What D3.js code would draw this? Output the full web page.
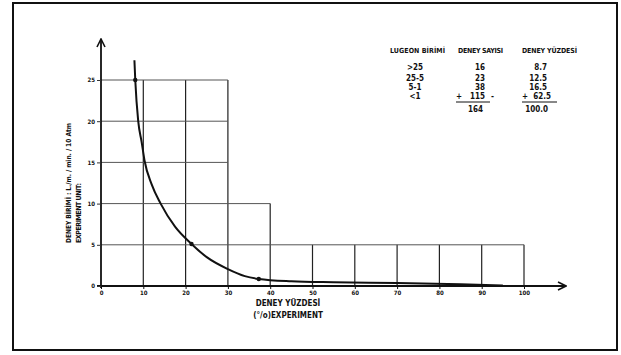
<!DOCTYPE html>
<html>
<head>
<meta charset="utf-8">
<script src="https://cdn.jsdelivr.net/npm/d3@7"></script>
<style>
  body { margin: 0; background: #fff; }
  text { font-family: "Liberation Sans Narrow", "DejaVu Sans Condensed", sans-serif; font-weight: bold; fill: #111; }
</style>
</head>
<body>
<div id="chart"></div>
<script>
// curve: x = deney yüzdesi (%), y = deney birimi
const curveX = [7.9, 8.1, 8.8, 9.6, 10.3, 12, 14.1, 17.5, 21.4, 25, 30, 34, 37.3, 45, 55, 70, 85, 95];
const curveY = [27.4, 25, 20, 17.5, 15.2, 12.3, 10, 7.2, 5.1, 3.5, 2.05, 1.2, 0.85, 0.57, 0.45, 0.35, 0.2, 0.05];
const markedX = [8.1, 21.4, 37.3];
const markedY = [25, 5.1, 0.85];

// stepped grid: vertical lines and how high they go, horizontal lines and how far they go
const gridX = [10, 20, 30, 40, 50, 60, 70, 80, 90, 100];
const gridXTop = [25, 25, 25, 10, 5, 5, 5, 5, 5, 5];
const gridY = [5, 10, 15, 20, 25];
const gridYRight = [100, 40, 30, 30, 30];

const xTicks = [0, 10, 20, 30, 40, 50, 60, 70, 80, 90, 100];
const yTicks = [0, 5, 10, 15, 20, 25];

// table
const tableHeaders = ["LUGEON BİRİMİ", "DENEY SAYISI", "DENEY YÜZDESİ"];
const lugeonClasses = [">25", "25-5", "5-1", "<1"];
const testCounts = ["16", "23", "38", "115"];
const testPercents = ["8.7", "12.5", "16.5", "62.5"];
const totals = ["164", "100.0"];

const width = 621, height = 355;
const svg = d3.select("#chart").append("svg")
  .attr("width", width)
  .attr("height", height);

// frame
svg.append("rect")
  .attr("x", 13).attr("y", 3)
  .attr("width", 604).attr("height", 347)
  .attr("fill", "none").attr("stroke", "#111").attr("stroke-width", 2);

const x = d3.scaleLinear().domain([0, 100]).range([101, 524]);
const y = d3.scaleLinear().domain([0, 25]).range([286, 80]);

// grid
svg.append("g").selectAll("line")
  .data(gridX)
  .join("line")
  .attr("x1", d => x(d)).attr("x2", d => x(d))
  .attr("y1", y(0)).attr("y2", (d, i) => y(gridXTop[i]))
  .attr("stroke", "#222").attr("stroke-width", 1.2);

svg.append("g").selectAll("line")
  .data(gridY)
  .join("line")
  .attr("x1", x(0)).attr("x2", (d, i) => x(gridYRight[i]))
  .attr("y1", d => y(d)).attr("y2", d => y(d))
  .attr("stroke", "#555").attr("stroke-width", 1);

// axes with arrows
svg.append("defs").append("marker")
  .attr("id", "arrow")
  .attr("viewBox", "0 0 10 10")
  .attr("refX", 9).attr("refY", 5)
  .attr("markerWidth", 10).attr("markerHeight", 10)
  .attr("markerUnits", "userSpaceOnUse")
  .attr("orient", "auto")
  .append("path")
  .attr("d", "M1,1 L9,5 L1,9")
  .attr("fill", "none").attr("stroke", "#111").attr("stroke-width", 1.6);

svg.append("line")
  .attr("x1", x(0)).attr("x2", x(0))
  .attr("y1", y(0) + 2).attr("y2", 39)
  .attr("stroke", "#111").attr("stroke-width", 1.8)
  .attr("marker-end", "url(#arrow)");

svg.append("line")
  .attr("x1", x(0) - 4).attr("x2", 566)
  .attr("y1", y(0)).attr("y2", y(0))
  .attr("stroke", "#111").attr("stroke-width", 1.8)
  .attr("marker-end", "url(#arrow)");

const xAxis = svg.append("g")
  .attr("transform", "translate(0," + y(0) + ")")
  .call(d3.axisBottom(x).tickValues(xTicks).tickSize(3).tickPadding(2).tickFormat(d3.format("d")));
xAxis.select(".domain").remove();
xAxis.selectAll("text").attr("font-size", 6).attr("font-family", null).attr("fill", "#111");
xAxis.selectAll("line").attr("stroke", "#111");

const yAxis = svg.append("g")
  .attr("transform", "translate(" + x(0) + ",0)")
  .call(d3.axisLeft(y).tickValues(yTicks).tickSize(4).tickPadding(2).tickFormat(d3.format("d")));
yAxis.select(".domain").remove();
yAxis.selectAll("text").attr("font-size", 6).attr("font-family", null).attr("fill", "#111");
yAxis.selectAll("line").attr("stroke", "#333");

// curve
const pts = curveX.map((d, i) => [d, curveY[i]]);
svg.append("path")
  .datum(pts)
  .attr("fill", "none")
  .attr("stroke", "#111")
  .attr("stroke-width", 2)
  .attr("d", d3.line().x(d => x(d[0])).y(d => y(d[1])).curve(d3.curveMonotoneX));

svg.append("g").selectAll("circle")
  .data(markedX)
  .join("circle")
  .attr("cx", d => x(d)).attr("cy", (d, i) => y(markedY[i]))
  .attr("r", 2.2).attr("fill", "#111");

// axis titles
svg.append("text")
  .attr("transform", "translate(71,243) rotate(-90)")
  .attr("font-size", 7)
  .attr("textLength", 120).attr("lengthAdjust", "spacingAndGlyphs")
  .text("DENEY BİRİMİ : L./m. / min. / 10 Atm");
svg.append("text")
  .attr("transform", "translate(81,243) rotate(-90)")
  .attr("font-size", 7)
  .attr("textLength", 60).attr("lengthAdjust", "spacing")
  .text("EXPERIMENT UNIT:");

svg.append("text")
  .attr("x", 288).attr("y", 306)
  .attr("text-anchor", "middle")
  .attr("font-size", 8)
  .text("DENEY YÜZDESİ");
svg.append("text")
  .attr("x", 288).attr("y", 318)
  .attr("text-anchor", "middle")
  .attr("font-size", 8)
  .text("(°/o)EXPERIMENT");

// table
const colX = [390, 458, 522];
const colW = [55, 45, 55];
svg.append("g").selectAll("text")
  .data(tableHeaders)
  .join("text")
  .attr("x", (d, i) => colX[i]).attr("y", 53)
  .attr("font-size", 7)
  .attr("textLength", (d, i) => colW[i]).attr("lengthAdjust", "spacing")
  .text(d => d);

const rowY = [70, 81, 90, 99];
svg.append("g").selectAll("text")
  .data(lugeonClasses)
  .join("text")
  .attr("x", 415).attr("y", (d, i) => rowY[i])
  .attr("text-anchor", "middle")
  .attr("font-size", 8)
  .text(d => d);

svg.append("g").selectAll("text")
  .data(testCounts)
  .join("text")
  .attr("x", 485).attr("y", (d, i) => rowY[i])
  .attr("text-anchor", "end")
  .attr("font-size", 8)
  .text(d => d);

svg.append("g").selectAll("text")
  .data(testPercents)
  .join("text")
  .attr("x", (d, i) => i === 3 ? 551 : 547).attr("y", (d, i) => rowY[i])
  .attr("text-anchor", "end")
  .attr("font-size", 8)
  .text(d => d);

// plus signs, dash and sum lines
svg.append("text").attr("x", 456).attr("y", rowY[3]).attr("font-size", 8).text("+");
svg.append("text").attr("x", 491).attr("y", rowY[3]).attr("font-size", 8).text("-");
svg.append("text").attr("x", 522).attr("y", rowY[3]).attr("font-size", 8).text("+");
svg.append("line").attr("x1", 456).attr("x2", 490).attr("y1", 102).attr("y2", 102)
  .attr("stroke", "#111").attr("stroke-width", 1);
svg.append("line").attr("x1", 522).attr("x2", 557).attr("y1", 102).attr("y2", 102)
  .attr("stroke", "#111").attr("stroke-width", 1);

svg.append("text").attr("x", 483).attr("y", 112).attr("text-anchor", "end")
  .attr("font-size", 8).text(totals[0]);
svg.append("text").attr("x", 548).attr("y", 112).attr("text-anchor", "end")
  .attr("font-size", 8).text(totals[1]);
</script>
</body>
</html>
